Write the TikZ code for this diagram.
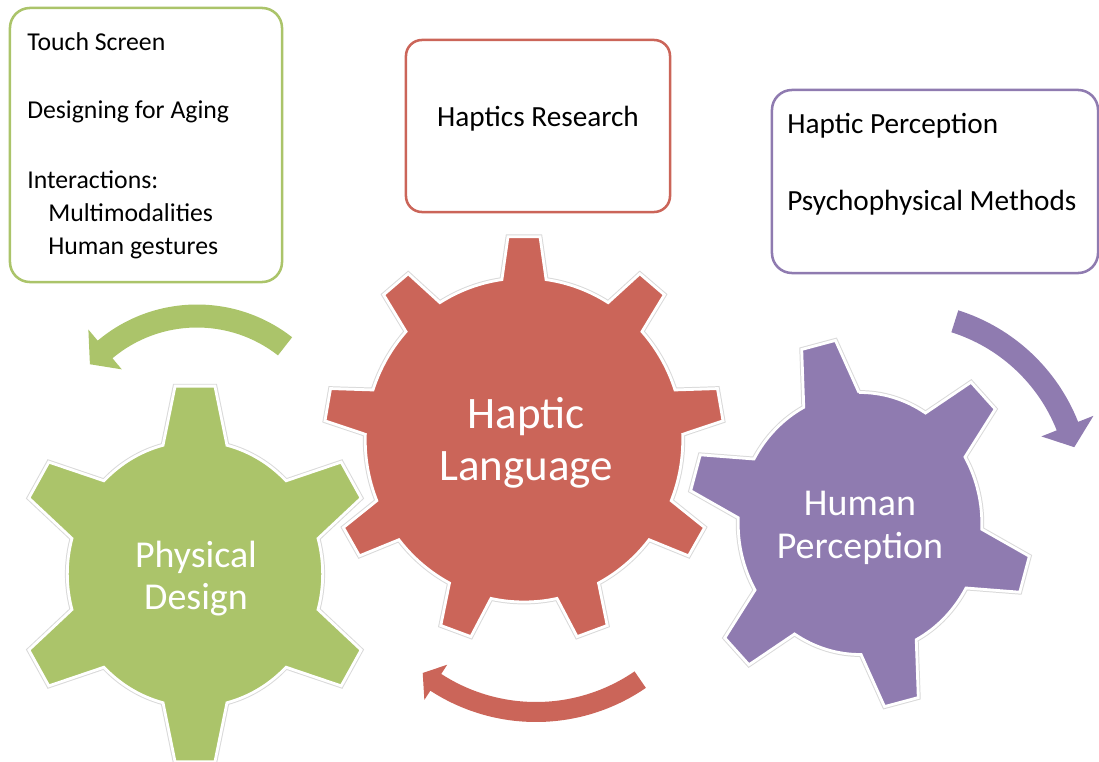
\documentclass[tikz,border=0pt]{standalone}
\usepackage{fontspec}
\setmainfont{Carlito}

\definecolor{gearGreen}{RGB}{171,196,106}
\definecolor{gearRed}{RGB}{203,101,89}
\definecolor{gearPurple}{RGB}{143,123,176}

% gear outline: teeth, first tooth angle, body radius, tip radius, base half angle, tip half angle
\newcommand{\gearpath}[6]{({#2-#5}:#3)
  \foreach \k [evaluate=\k as \a using {#2+(\k-1)*360/#1}] in {1,...,#1} {
    -- ({\a-#6}:#4) -- ({\a+#6}:#4) -- ({\a+#5}:#3)
    arc[start angle={\a+#5}, end angle={\a+360/#1-#5}, radius=#3]
  } -- cycle}

% bent block arrow: options, centre, radius, half width, from angle, to angle, head half width, tip angle
\newcommand{\bentarrow}[8]{%
  \fill[#1, shift={(#2)}] ({#5}:{#3+#4}) arc[start angle=#5, end angle=#6, radius={#3+#4}]
    -- ({#6}:{#3+#7}) -- ({#8}:#3) -- ({#6}:{#3-#7}) -- ({#6}:{#3-#4})
    arc[start angle=#6, end angle=#5, radius={#3-#4}] -- cycle;}

\tikzset{
  topicbox/.style={draw=#1, line width=1.8pt, rounded corners=0.5cm},
  topic/.style={anchor=base west, inner sep=0pt, font=\fontsize{18.3}{22}\selectfont},
  bigtopic/.style={topic, font=\fontsize{20.8}{25}\selectfont},
  gear/.style={fill=#1, draw=white, line width=2pt, preaction={draw=black!15, line width=3.4pt}},
  gearlabel/.style={anchor=base, inner sep=0pt, text=white},
}

\begin{document}
\begin{tikzpicture}[x=0.025cm, y=0.025cm]
    \useasboundingbox (0,0) rectangle (1099,-762);

    % Topic boxes
    \node (designbox) [topicbox=gearGreen, minimum width=6.8cm, minimum height=6.85cm] at (146,-145) {};
    \node (researchbox) [topicbox=gearRed, minimum width=6.6cm, minimum height=4.3cm, rounded corners=0.4cm] at (538,-126) {};
    \node (perceptbox) [topicbox=gearPurple, minimum width=8.15cm, minimum height=4.575cm] at (935,-181.5) {};

    \node (touch) [topic] at (27,-51) {Touch Screen};
    \node (aging) [topic] at (27,-119) {Designing for Aging};
    \node (inter) [topic] at (27,-188) {Interactions:};
    \node (multi) [topic] at (48,-221) {Multimodalities};
    \node (gest) [topic] at (48,-254) {Human gestures};

    \node (research) [bigtopic, anchor=base] at (538,-127) {Haptics Research};

    \node (hperc) [bigtopic] at (787,-134) {Haptic Perception};
    \node (psych) [bigtopic] at (787,-210) {Psychophysical Methods};

    % The three gears
    \begin{scope}[shift={(195,-574)}, xscale=0.96]
        \draw[gear=gearGreen] \gearpath{6}{90}{133}{189}{14.5}{6.3};
    \end{scope}
    \begin{scope}[shift={(860,-523.5)}, xscale=0.93]
        \draw[gear=gearPurple] \gearpath{6}{104}{131}{185}{13.5}{5.8};
    \end{scope}
    \begin{scope}[shift={(524,-440)}, xscale=0.98]
        \draw[gear=gearRed] \gearpath{9}{90}{162}{204}{8}{4.6};
    \end{scope}

    % Gear labels
    \node (physical) [gearlabel, font=\fontsize{27}{32}\selectfont] at (196,-567) {Physical};
    \node (design) [gearlabel, font=\fontsize{27}{32}\selectfont] at (196,-609) {Design};
    \node (haptic) [gearlabel, font=\fontsize{32}{38}\selectfont] at (526,-428) {Haptic};
    \node (language) [gearlabel, font=\fontsize{32}{38}\selectfont] at (526,-480) {Language};
    \node (human) [gearlabel, font=\fontsize{27}{32}\selectfont] at (860,-515) {Human};
    \node (perception) [gearlabel, font=\fontsize{27}{32}\selectfont] at (860,-558) {Perception};

    % Turning arrows
    \bentarrow{gearGreen}{197,-459}{143}{11.5}{52}{130}{26}{138.5}
    \bentarrow{gearRed}{536,-528}{184}{10}{-55.5}{-123}{21}{-128}
    \bentarrow{gearPurple}{901,-492}{179}{11.5}{72.5}{21.6}{28}{14.5}
\end{tikzpicture}
\end{document}
